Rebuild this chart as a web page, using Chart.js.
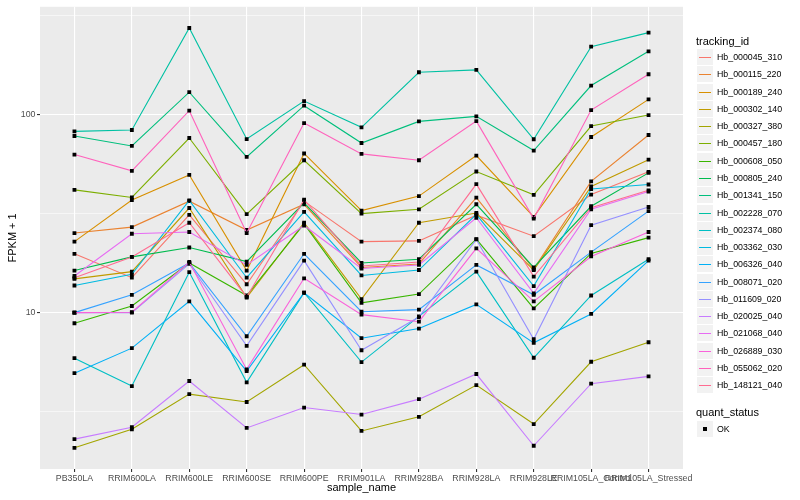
<!DOCTYPE html>
<html>
<head>
<meta charset="utf-8">
<script src="https://cdn.jsdelivr.net/npm/chart.js@4.4.1/dist/chart.umd.min.js"></script>
<style>
html, body { margin: 0; padding: 0; background: #fff; }
#wrap { position: relative; width: 800px; height: 500px; font-family: "Liberation Sans", Arial, sans-serif; }
canvas { position: absolute; left: 0; top: 0; }
.lg-title { position: absolute; left: 696px; font-size: 11px; line-height: 12px; color: #000; white-space: nowrap; }
.lg-key { position: absolute; left: 697px; width: 16px; height: 16px; background: #F2F2F2; }
.lg-line { position: absolute; left: 2px; width: 12px; top: 8px; height: 1px; }
.lg-dot { position: absolute; left: 6px; top: 6px; width: 4px; height: 4px; background: #000; }
.lg-text { position: absolute; left: 717px; font-size: 8.8px; line-height: 10px; color: #000; white-space: nowrap; }
</style>
</head>
<body>
<div id="wrap">
  <canvas id="c" width="800" height="500"></canvas>
  <div id="legend"></div>
</div>
<script>
const FONT = '"Liberation Sans", Arial, sans-serif';

const samples = ['PB350LA', 'RRIM600LA', 'RRIM600LE', 'RRIM600SE', 'RRIM600PE', 'RRIM901LA',
  'RRIM928BA', 'RRIM928LA', 'RRIM928LE', 'RRIM105LA_Control', 'RRIM105LA_Stressed'];

const trackingIds = ['Hb_000045_310', 'Hb_000115_220', 'Hb_000189_240', 'Hb_000302_140', 'Hb_000327_380',
  'Hb_000457_180', 'Hb_000608_050', 'Hb_000805_240', 'Hb_001341_150', 'Hb_002228_070',
  'Hb_002374_080', 'Hb_003362_030', 'Hb_006326_040', 'Hb_008071_020', 'Hb_011609_020',
  'Hb_020025_040', 'Hb_021068_040', 'Hb_026889_030', 'Hb_055062_020', 'Hb_148121_040'];

const colors = ['#F8766D', '#EA8331', '#D89000', '#C09B00', '#A3A500', '#7CAE00', '#39B600', '#00BB4E',
  '#00BF7D', '#00C1A3', '#00BFC4', '#00BAE0', '#00B0F6', '#35A2FF', '#9590FF', '#C77CFF',
  '#E76BF3', '#FA62DB', '#FF62BC', '#FF6C91'];

// FPKM + 1, one array per gene, in sample order
const hb000045_310 = [19.8, 15.0, 31.1, 13.9, 36.5, 22.8, 23.0, 31.0, 24.3, 39.4, 51.3];
const hb000115_220 = [25.2, 27.0, 36.5, 26.1, 35.2, 16.9, 17.6, 38.0, 16.6, 45.9, 78.7];
const hb000189_240 = [22.8, 37.0, 49.5, 16.3, 63.5, 32.7, 38.7, 62.0, 30.4, 76.9, 119.0];
const hb000302_140 = [14.8, 16.1, 33.7, 11.9, 28.4, 11.7, 28.4, 31.8, 16.4, 43.3, 59.1];
const hb000327_380 = [2.08, 2.58, 3.88, 3.54, 5.46, 2.53, 2.98, 4.31, 2.74, 5.65, 7.09];
const hb000457_180 = [41.6, 38.1, 76.0, 31.4, 58.7, 31.6, 33.2, 51.5, 39.3, 87.3, 99.2];
const hb000608_050 = [8.84, 10.8, 17.8, 12.2, 28.0, 11.2, 12.4, 23.5, 10.5, 19.9, 23.9];
const hb000805_240 = [16.3, 19.1, 21.3, 18.1, 35.8, 17.8, 18.6, 35.2, 16.9, 34.4, 50.7];
const hb001341_150 = [77.8, 69.3, 129.4, 61.0, 110.6, 71.7, 92.2, 97.7, 65.7, 139.8, 208.0];
const hb002228_070 = [82.1, 83.4, 272.7, 75.1, 116.7, 86.0, 163.1, 167.7, 74.9, 219.6, 258.4];
const hb002374_080 = [5.89, 4.26, 16.0, 4.45, 12.6, 5.63, 9.58, 16.1, 5.92, 12.2, 18.6];
const hb003362_030 = [13.7, 15.6, 36.8, 15.0, 32.2, 15.4, 16.4, 31.3, 13.6, 42.0, 44.3];
const hb006326_040 = [4.95, 6.62, 11.4, 5.07, 12.6, 7.43, 8.31, 11.0, 7.04, 9.85, 18.3];
const hb008071_020 = [10.0, 12.3, 17.8, 7.6, 19.8, 10.1, 10.35, 17.4, 12.3, 20.2, 32.5];
const hb011609_020 = [10.0, 10.0, 17.6, 6.8, 18.3, 6.46, 9.5, 23.4, 7.34, 27.6, 34.1];
const hb020025_040 = [2.30, 2.64, 4.52, 2.62, 3.32, 3.06, 3.66, 4.90, 2.13, 4.38, 4.77];
const hb021068_040 = [15.3, 25.0, 25.5, 17.4, 27.5, 16.7, 17.4, 30.1, 12.5, 33.2, 40.8];
const hb026889_030 = [10.0, 10.05, 18.0, 5.17, 14.9, 9.77, 9.0, 21.1, 11.4, 19.2, 25.5];
const hb055062_020 = [62.7, 51.9, 104.4, 25.2, 90.4, 63.2, 58.7, 92.5, 29.8, 105.1, 159.4];
const hb148121_040 = [15.0, 19.1, 28.4, 12.0, 37.1, 17.2, 18.0, 44.5, 15.2, 33.8, 41.4];

const seriesValues = [hb000045_310, hb000115_220, hb000189_240, hb000302_140, hb000327_380,
  hb000457_180, hb000608_050, hb000805_240, hb001341_150, hb002228_070,
  hb002374_080, hb003362_030, hb006326_040, hb008071_020, hb011609_020,
  hb020025_040, hb021068_040, hb026889_030, hb055062_020, hb148121_040];

const yBreaks = [3.1623, 10, 31.623, 100, 316.23];
const yTickLabels = ['', '10', '', '100', ''];
const yMajor = [false, true, false, true, false];

const panelBg = {
  id: 'panelBg',
  beforeDraw(chart) {
    const { ctx, chartArea: a } = chart;
    ctx.save();
    ctx.fillStyle = '#EBEBEB';
    ctx.fillRect(a.left, a.top, a.right - a.left, a.bottom - a.top);
    ctx.restore();
  }
};

const datasets = seriesValues.map((vals, i) => ({
  label: trackingIds[i],
  data: vals.map((v, j) => ({ x: j, y: v })),
  borderColor: colors[i],
  borderWidth: 1.1,
  pointStyle: 'rect',
  pointRadius: 2.7,
  pointBorderWidth: 0,
  pointBackgroundColor: '#000000',
  tension: 0,
  order: seriesValues.length - i
}));

new Chart(document.getElementById('c'), {
  type: 'line',
  data: { datasets },
  plugins: [panelBg],
  options: {
    responsive: false,
    animation: false,
    layout: { padding: { left: 0, right: 117, top: 5, bottom: 0 } },
    plugins: { legend: { display: false }, tooltip: { enabled: false } },
    scales: {
      x: {
        type: 'linear',
        min: -0.6,
        max: 10.6,
        afterBuildTicks: s => { s.ticks = samples.map((_, i) => ({ value: i })); },
        afterFit: s => { s.height = 31; },
        ticks: {
          autoSkip: false, maxRotation: 0, minRotation: 0, padding: 1,
          color: '#4D4D4D', font: { family: FONT, size: 8.8 },
          callback: v => samples[Math.round(v)]
        },
        grid: { color: '#FFFFFF', lineWidth: 1.1, tickLength: 3, tickColor: '#333333' },
        border: { display: false },
        title: {
          display: true, text: 'sample_name', color: '#000000',
          font: { family: FONT, size: 11 }, padding: { top: 0, bottom: 5.5 }
        }
      },
      y: {
        type: 'logarithmic',
        min: 1.626,
        max: 349,
        afterBuildTicks: s => { s.ticks = yBreaks.map(v => ({ value: v })); },
        afterFit: s => { s.width = 40; },
        ticks: {
          padding: 1.5, color: '#4D4D4D', font: { family: FONT, size: 8.8 },
          callback: (v, i) => yTickLabels[i]
        },
        grid: {
          color: '#FFFFFF',
          lineWidth: c => (yMajor[c.index] ? 1.1 : 0.55),
          tickLength: 3,
          tickColor: c => (yMajor[c.index] ? '#333333' : 'rgba(0,0,0,0)')
        },
        border: { display: false },
        title: {
          display: true, text: 'FPKM + 1', color: '#000000',
          font: { family: FONT, size: 11 }, padding: { top: 6, bottom: 0 }
        }
      }
    }
  }
});

// ggplot-style legend on the right
const lg = document.getElementById('legend');
function add(cls, css, text) {
  const d = document.createElement('div');
  d.className = cls;
  d.style.cssText = css;
  if (text) d.textContent = text;
  lg.appendChild(d);
  return d;
}
add('lg-title', 'top:35px;', 'tracking_id');
trackingIds.forEach((id, i) => {
  const top = Math.round(49 + i * 17.28);
  const key = add('lg-key', 'top:' + top + 'px;');
  const ln = document.createElement('div');
  ln.className = 'lg-line';
  ln.style.background = colors[i];
  key.appendChild(ln);
  add('lg-text', 'top:' + (top + 3) + 'px;', id);
});
add('lg-title', 'top:406px;', 'quant_status');
const okKey = add('lg-key', 'top:421px;');
const dot = document.createElement('div');
dot.className = 'lg-dot';
okKey.appendChild(dot);
add('lg-text', 'top:424px;', 'OK');
</script>
</body>
</html>
